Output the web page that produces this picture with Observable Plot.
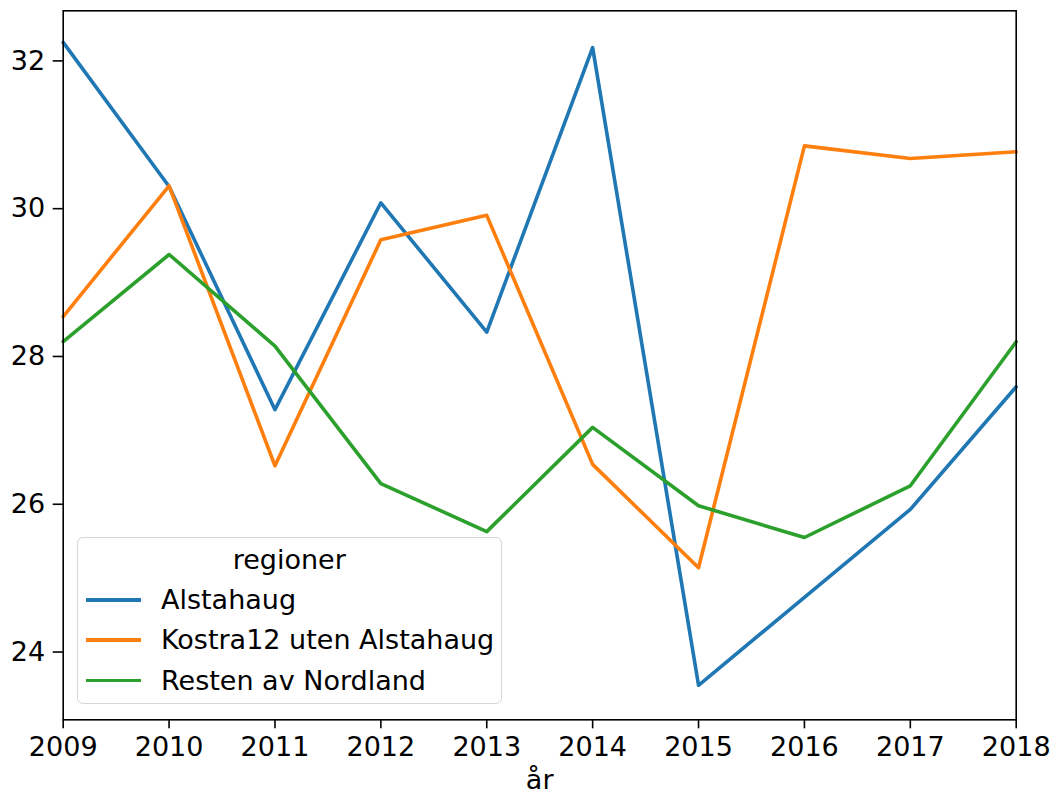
<!DOCTYPE html>
<html><head><meta charset="utf-8">
<script src="https://cdn.jsdelivr.net/npm/d3@7"></script>
<script src="https://cdn.jsdelivr.net/npm/@observablehq/plot@0.6"></script>
<style>
body{margin:0;background:#fff;font-family:"DejaVu Sans",sans-serif;}
#wrap{position:relative;width:1050px;height:796px;overflow:hidden;}
#legend{position:absolute;left:76.7px;top:536.7px;width:425px;height:167.5px;border:1.3px solid #d5d5d5;border-radius:6px;background:rgba(255,255,255,0.8);box-sizing:border-box;font-size:27px;color:#000;}
#legend .row{position:absolute;left:0;height:40px;display:flex;align-items:center;white-space:nowrap;}
#legend .sw{position:absolute;height:3.6px;width:55px;}
</style></head><body><div id="wrap"></div>
<script>
const years = [2009, 2010, 2011, 2012, 2013, 2014, 2015, 2016, 2017, 2018];
const regions = ["Alstahaug", "Kostra12 uten Alstahaug", "Resten av Nordland"];
const alstahaug = [32.25, 30.30, 27.28, 30.08, 28.33, 32.18, 23.55, 24.74, 25.93, 27.59];
const kostra12 = [28.54, 30.31, 26.52, 29.58, 29.91, 26.54, 25.14, 30.85, 30.68, 30.77];
const resten = [28.20, 29.38, 28.14, 26.28, 25.63, 27.04, 25.98, 25.55, 26.25, 28.20];
const colors = ["#1f77b4", "#ff7f0e", "#2ca02c"];
const yTicks = [24, 26, 28, 30, 32];
const legendTitle = "regioner";
const xLabel = "år";

const series = [alstahaug, kostra12, resten];
const data = [];
series.forEach((s, i) => s.forEach((v, j) => data.push({year: years[j], value: v, region: regions[i]})));

const chart = Plot.plot({
  width: 1050, height: 796,
  marginLeft: 62.7, marginRight: 34.3, marginTop: 10.3, marginBottom: 76.7,
  style: {fontSize: "27px", fontFamily: "DejaVu Sans", color: "#000", background: "white", overflow: "visible"},
  x: {domain: [2009, 2018]},
  y: {domain: [23.083, 32.678]},
  color: {domain: regions, range: colors},
  marks: [
    Plot.line(data, {x: "year", y: "value", stroke: "region", strokeWidth: 3.6, strokeLinejoin: "round", z: "region"}),
    Plot.frame({stroke: "black", strokeWidth: 1.6}),
    Plot.axisX({ticks: years, tickFormat: d => String(d), tickSize: 9, tickPadding: 8, label: xLabel, labelAnchor: "center", labelArrow: "none", labelOffset: 69, strokeWidth: 1.6}),
    Plot.axisY({ticks: yTicks, tickSize: 10, tickPadding: 8, label: null, strokeWidth: 1.6})
  ]
});
const wrap = document.getElementById("wrap");
wrap.appendChild(chart);

const legend = document.createElement("div");
legend.id = "legend";
const title = document.createElement("div");
title.className = "row";
title.style.top = (22.3 - 20) + "px";
title.style.width = "100%";
title.style.justifyContent = "center";
title.textContent = legendTitle;
legend.appendChild(title);
const rowY = [62.3, 102.3, 143];
regions.forEach((r, i) => {
  const sw = document.createElement("div");
  sw.className = "sw";
  sw.style.left = "8.3px";
  sw.style.top = (rowY[i] - 1.8) + "px";
  sw.style.background = colors[i];
  legend.appendChild(sw);
  const row = document.createElement("div");
  row.className = "row";
  row.style.left = "83.3px";
  row.style.top = (rowY[i] - 20) + "px";
  row.textContent = r;
  legend.appendChild(row);
});
wrap.appendChild(legend);
</script>
</body></html>
